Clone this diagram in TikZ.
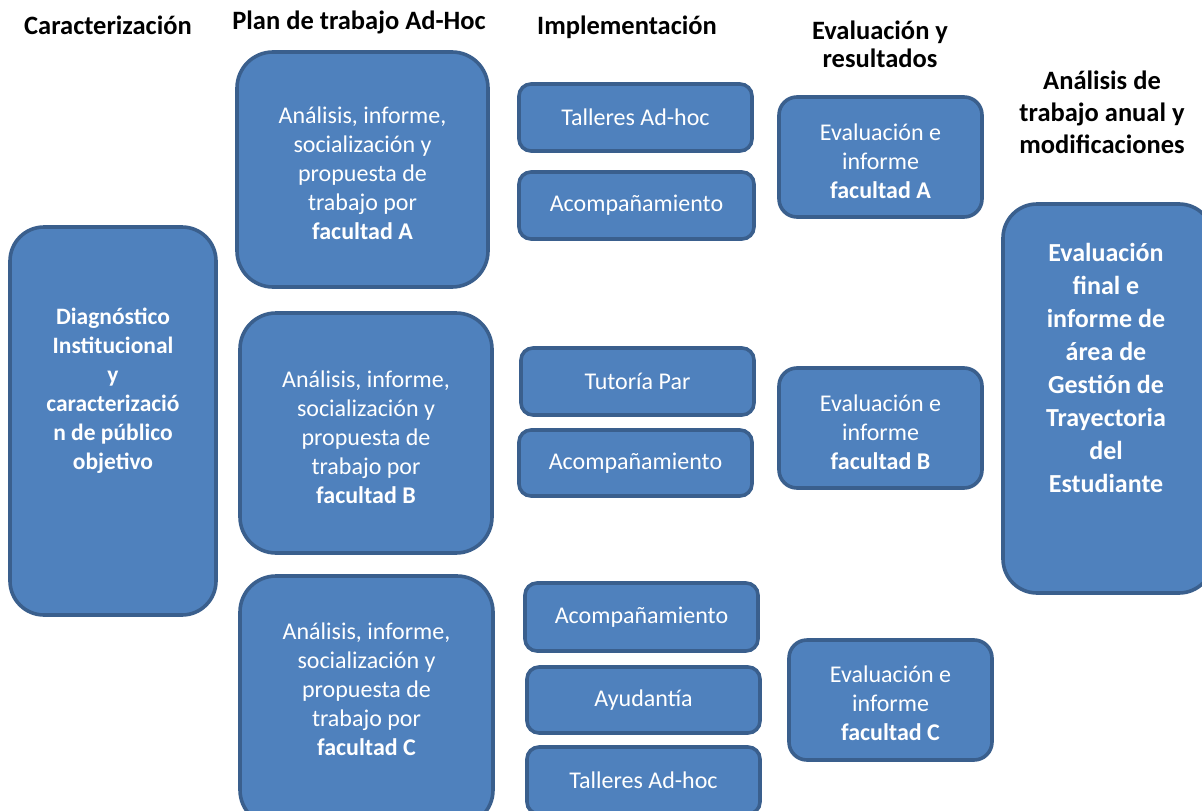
\documentclass[tikz,border=0pt]{standalone}
\usepackage{fontspec}
\setmainfont{Carlito}
\definecolor{boxfill}{HTML}{4F81BD}
\definecolor{boxline}{HTML}{3A5F8D}
\begin{document}
\begin{tikzpicture}[x=1pt,y=-1pt,
  box/.style={draw=boxline, fill=boxfill, line width=3.6pt, rectangle, rounded corners=#1, inner sep=0pt},
  body/.style={text=white, align=center, font=\fontsize{24}{29}\selectfont, inner sep=0pt},
  bodyb/.style={text=white, align=center, font=\bfseries\fontsize{23.5}{29}\selectfont, inner sep=0pt},
  bigb/.style={text=white, align=center, font=\bfseries\fontsize{26}{33}\selectfont, inner sep=0pt},
  head/.style={text=black, align=center, font=\bfseries\fontsize{26.5}{#1}\selectfont, inner sep=0pt},
  head/.default=30]
\useasboundingbox (0,0) rectangle (1202,811);
\clip (0,0) rectangle (1202,811);
% headers
\node[head] (h1) at (108,25) {Caracterización};
\node[head] (h2) at (359,22) {Plan de trabajo Ad-Hoc};
\node[head] (h3) at (627,27) {Implementación};
\node[head=28] (h4) at (880,44) {Evaluación y\\resultados};
\node[head=32] (h5) at (1102,112) {Análisis de\\trabajo anual y\\modificaciones};
% left box
\node[box=34pt, minimum width=206, minimum height=388] (diag) at (113,421) {};
\node[bodyb] (diagt) at (113,391) {Diagnóstico\\Institucional\\y\\caracterizació\\n de público\\objetivo};
% plan boxes
\node[box=36pt, minimum width=251, minimum height=235] (planA) at (362.5,169.5) {};
\node[body] (planAt) at (362.5,173.5) {Análisis, informe,\\socialización y\\propuesta de\\trabajo por\\\textbf{facultad A}};
\node[box=36pt, minimum width=252, minimum height=240] (planB) at (366,433) {};
\node[body] (planBt) at (366,437) {Análisis, informe,\\socialización y\\propuesta de\\trabajo por\\\textbf{facultad B}};
\node[box=36pt, minimum width=253, minimum height=250] (planC) at (366.5,701) {};
\node[body] (planCt) at (366.5,689) {Análisis, informe,\\socialización y\\propuesta de\\trabajo por\\\textbf{facultad C}};
% implementation boxes
\node[box=12pt, minimum width=233, minimum height=67, body] (i1) at (635.5,117.5) {Talleres Ad-hoc};
\node[box=12pt, minimum width=235, minimum height=67, body] (i2) at (636.5,205.5) {Acompañamiento};
\node[box=12pt, minimum width=233, minimum height=67, body] (i3) at (637.5,381.5) {Tutoría Par};
\node[box=12pt, minimum width=233, minimum height=66, body] (i4) at (635.5,463) {Acompañamiento};
\node[box=12pt, minimum width=233, minimum height=68, body] (i5) at (641.5,617) {Acompañamiento};
\node[box=12pt, minimum width=233, minimum height=66, body] (i6) at (643.5,700) {Ayudantía};
\node[box=12pt, minimum width=233, minimum height=67, body] (i7) at (643.5,780.5) {Talleres Ad-hoc};
% evaluation boxes
\node[box=18pt, minimum width=203, minimum height=120] (eA) at (880.5,157) {};
\node[body] (eAt) at (880.5,161) {Evaluación e\\informe\\\textbf{facultad A}};
\node[box=18pt, minimum width=203, minimum height=120] (eB) at (880.5,428) {};
\node[body] (eBt) at (880.5,432) {Evaluación e\\informe\\\textbf{facultad B}};
\node[box=18pt, minimum width=203, minimum height=120] (eC) at (890.5,700) {};
\node[body] (eCt) at (890.5,703.5) {Evaluación e\\informe\\\textbf{facultad C}};
% final box
\node[box=34pt, minimum width=210, minimum height=389] (fin) at (1108,398.5) {};
\node[bigb] (fint) at (1106,368) {Evaluación\\final e\\informe de\\área de\\Gestión de\\Trayectoria\\del\\Estudiante};
\end{tikzpicture}
\end{document}
